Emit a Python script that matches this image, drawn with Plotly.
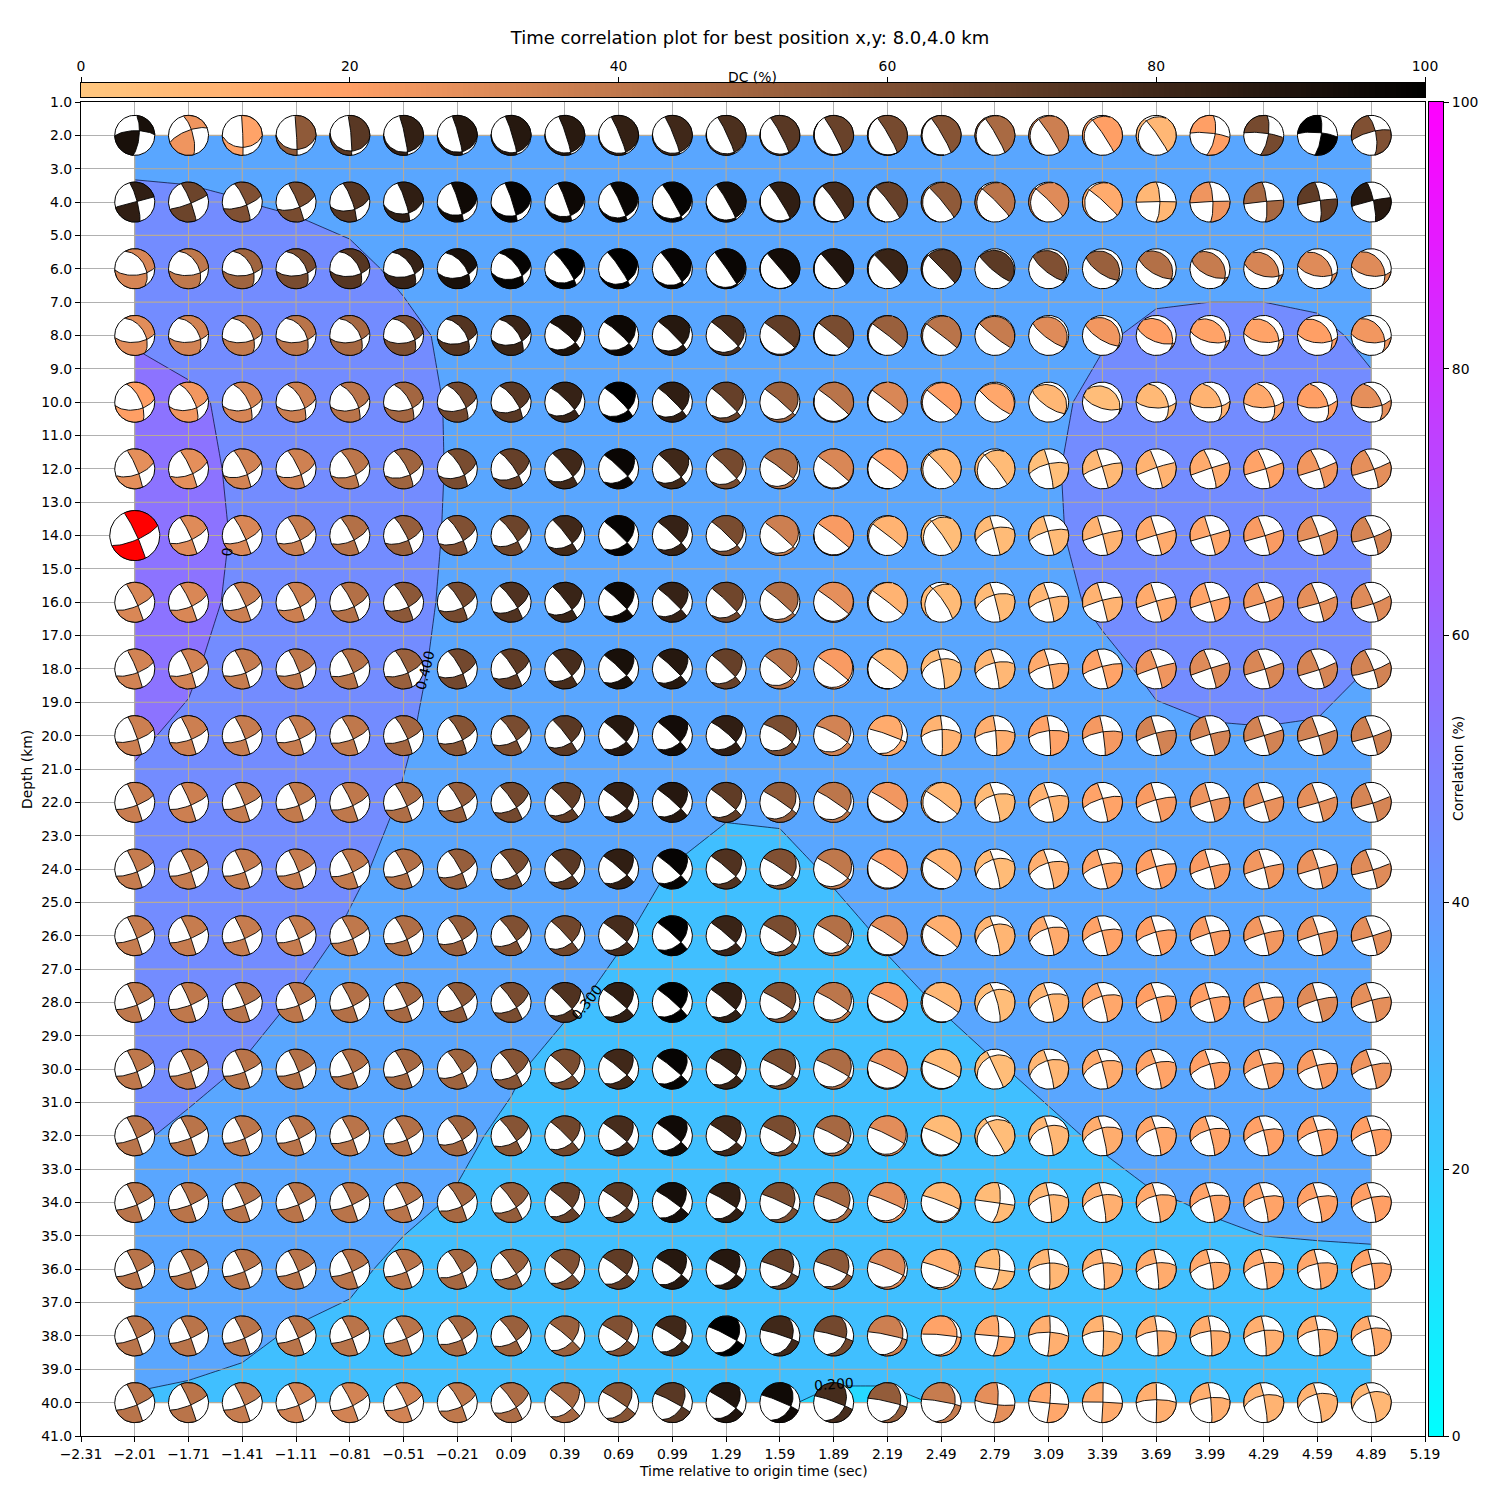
import numpy as np
import plotly.graph_objects as go

TITLE = "Time correlation plot for best position x,y: 8.0,4.0 km"
TIMES = [-2.01,-1.71,-1.41,-1.11,-0.81,-0.51,-0.21,0.09,0.39,0.69,0.99,1.29,1.59,1.89,2.19,2.49,2.79,3.09,3.39,3.69,3.99,4.29,4.59,4.89]
DEPTHS = [2,4,6,8,10,12,14,16,18,20,22,24,26,28,30,32,34,36,38,40]
X_TICKS = [-2.31,-2.01,-1.71,-1.41,-1.11,-0.81,-0.51,-0.21,0.09,0.39,0.69,0.99,1.29,1.59,1.89,2.19,2.49,2.79,3.09,3.39,3.69,3.99,4.29,4.59,4.89,5.19]
X_LABELS = ["−2.31","−2.01","−1.71","−1.41","−1.11","−0.81","−0.51","−0.21","0.09","0.39","0.69","0.99","1.29","1.59","1.89","2.19","2.49","2.79","3.09","3.39","3.69","3.99","4.29","4.59","4.89","5.19"]
Y_TICKS = [1,2,3,4,5,6,7,8,9,10,11,12,13,14,15,16,17,18,19,20,21,22,23,24,25,26,27,28,29,30,31,32,33,34,35,36,37,38,39,40,41]
CB_TICKS = [0,20,40,60,80,100]
BEST_TIME = -2.01
BEST_DEPTH = 14

CORR = [
[38,38,38,37,37,37,36,36,36,36,36,36,36,36,36,36,36,36,36,36,37,37,37,37],
[41,40.7,40.1,38.7,37.5,37,36,36,36,36,36,36,36,36,36,36,36,36,36,36,36,36,36,36],
[44,44,45,45,42,38.5,36,36,36,36,36,36,36,36,36,36,36,36,36,37,37,37,37,36],
[49,47,46,46,45,42.1,38,36,36,36,36,36,36,36,36,36,36,36,39,42,43,43,41.5,38.5],
[54,51.5,47.8,47,46,44,38.5,36,36,36,36,36,36,36,36,36,36,37.5,43,44,45,45,44,41.5],
[55,52,48.8,47,46,44,38.7,36,36,36,36,36,36,36,36,36,36,39,43.3,45,45,45,44,43],
[60,53,49,47,46,44,38.3,36,36,36,36,36,36,36,36,36,36,38.7,43,45,45,45,44,43],
[56,52,48.7,47,46,43,38,36,36,36,36,36,36,36,36,36,36,37.5,41.5,44,44,44,44,43],
[53,50.8,47,46,45,41.7,37.8,36,36,36,36,36,36,36,36,36,36,36,38,41.5,43,43,42,39.8],
[50.7,49,46,45,44,40.6,37.6,36,36,36,36,36,36,36,36,36,36,36,36,38.3,39.2,39.5,39.3,37],
[48.9,47,45,44,42.6,39.6,36.5,35.5,35,34,33,31,31.3,33,34,35,36,36,36,36,36,36,36,36],
[46,45,44,43,41,38.3,36,35,34,32.5,29.8,27.7,28,30.8,32,34,35,36,36,36,36,36,36,36],
[44,44,43,42,39.3,37,35,34,32.5,30.5,28,27,27,28,30.6,32.5,34,35.5,36,36,36,36,36,36],
[43,43,42,39.7,37.5,35.5,33.5,32,30.8,28.5,27,26.5,26.5,27,28.5,30.3,32,34,35,36,36,36,36,36],
[42.5,42,39.7,37.5,35.5,34,32,30.7,28,27,26,26,26,26.5,27,28,29.7,31,34,35,36,36,36,36],
[40.8,38.6,37,35.5,34,32.5,31,29,27,26,25.5,25.5,25.5,26,26,26.5,28,29.2,30.5,33,34,35,35,35],
[38,37,35.5,34.5,33,31,29.6,27.5,26,25,25,25,24.5,25,25.5,26,27,27.5,28.5,29.5,30.5,31.5,32,32.5],
[36,35,34,32.5,30.8,29,27.5,26,25,24.5,24,24,24,24,24.5,25,25.5,26,26.5,27,28,28.5,28.5,28.5],
[33,32,31,29.5,29,27.5,26,25.5,25,24.5,24,24,23,23,23,23.5,24,24.5,25,25.5,26,26,26,26],
[29.4,29,28.5,28,27.5,26,25,24.5,24,23.5,22.5,21.5,20.5,19,19,20.3,21.5,22,23,23.5,24,24,24,24],
]

DC = [
[92,25,18,55,72,84,88,88,87,84,80,76,72,67,63,58,47,36,20,8,20,63,100,60],
[85,66,60,62,73,85,95,98,96,97,98,93,85,78,68,55,42,30,14,8,25,48,70,88],
[33,40,50,62,73,83,92,98,100,100,98,97,94,90,82,74,71,60,52,44,38,33,30,30],
[29,34,39,42,48,61,74,82,91,96,88,78,70,62,52,42,38,30,24,20,18,18,20,24],
[20,24,33,36,42,49,64,72,83,100,85,68,52,42,32,20,16,8,5,7,10,15,20,28],
[28,28,34,35,41,50,62,68,80,97,80,63,45,32,18,8,6,4,7,10,14,18,24,28],
[28,30,32,38,44,53,60,66,80,98,83,62,36,22,10,5,6,6,10,14,16,22,28,33],
[32,32,36,36,44,56,63,75,82,96,83,65,45,28,10,6,6,8,10,14,17,24,28,30],
[34,34,38,40,43,52,64,70,78,92,88,68,42,22,9,6,8,14,18,25,30,32,33,34],
[36,36,38,38,40,49,58,62,72,88,94,85,62,34,14,10,12,18,23,34,33,34,34,35],
[37,36,38,39,40,45,53,64,70,84,88,70,55,41,24,8,6,10,18,22,25,27,28,33],
[38,38,38,38,39,44,53,62,72,85,98,75,60,40,21,10,6,12,17,20,22,24,26,30],
[38,38,38,38,40,45,53,60,65,78,100,82,62,44,28,12,9,14,18,20,22,24,26,28],
[40,40,42,41,44,48,55,62,75,85,100,85,60,41,22,8,5,9,16,20,20,23,30,28],
[40,40,42,44,44,48,50,58,62,80,98,82,62,46,26,7,5,8,14,18,20,22,22,25],
[42,42,41,42,42,44,50,58,65,78,95,80,62,48,29,6,5,8,13,16,18,19,20,20],
[42,42,42,42,42,42,48,54,68,72,93,85,62,48,28,8,6,8,12,15,18,18,19,20],
[42,42,42,42,42,42,48,52,60,70,88,88,68,56,31,12,6,8,12,14,15,16,16,18],
[42,42,42,42,42,42,48,52,52,60,80,100,80,64,36,18,15,12,10,12,13,12,13,14],
[42,42,38,34,34,34,40,46,48,58,72,90,95,78,54,38,28,16,14,12,12,10,10,8],
]

STRIKE = [
[5,345,358,357,355,348,345,343,342,338,338,335,332,332,330,330,330,327,326,325,10,10,8,350],
[345,338,337,337,340,342,342,342,340,335,330,330,328,325,322,320,315,315,312,0,358,355,352,348],
[330,330,330,328,328,325,322,322,325,326,325,325,320,320,317,316,130,128,125,120,115,105,100,98],
[328,328,328,328,326,326,325,323,311,313,315,313,310,310,308,308,128,127,122,112,103,97,95,95],
[335,333,332,332,330,330,328,325,315,315,315,314,311,310,308,310,128,125,108,335,335,338,335,335],
[337,335,335,335,333,332,330,325,321,314,317,315,307,309,308,318,322,347,343,342,342,342,340,340],
[335,335,335,335,333,333,330,325,322,314,314,314,311,308,308,325,345,345,345,344,344,343,342,340],
[335,335,335,335,333,332,330,325,322,314,314,314,311,308,308,325,345,345,345,344,344,342,342,340],
[338,338,338,338,336,335,332,328,322,314,314,314,311,308,308,350,348,347,345,343,342,342,340,340],
[340,338,338,338,336,335,333,328,322,314,314,312,305,300,290,358,355,355,352,345,345,343,343,342],
[338,338,338,338,336,335,332,326,317,311,312,311,304,304,303,306,345,345,345,345,345,343,343,342],
[338,338,338,338,336,335,332,326,317,311,312,311,304,304,303,306,345,345,345,345,345,345,345,343],
[338,338,338,338,336,335,332,326,317,311,312,311,304,304,303,306,345,345,345,345,345,345,345,343],
[338,338,338,338,336,335,330,326,317,311,312,311,302,302,299,300,345,345,345,345,345,345,345,345],
[338,338,338,338,336,335,330,326,315,310,310,306,300,298,296,295,335,345,345,345,345,345,345,345],
[337,337,337,337,336,335,330,326,315,310,310,306,300,298,296,295,330,347,347,346,346,346,346,346],
[337,337,337,337,337,336,332,326,312,308,306,302,295,294,293,291,8,352,350,348,347,347,347,347],
[337,337,337,337,337,336,332,326,312,308,306,302,293,293,293,291,8,358,355,353,350,350,350,350],
[337,337,337,337,337,336,332,326,310,305,303,298,288,285,282,275,5,3,0,355,355,353,353,350],
[337,337,337,337,335,335,332,326,312,304,298,304,293,290,283,280,5,5,2,0,355,350,348,345],
]

DIP = [
[72,72,88,88,85,85,85,85,85,85,85,85,85,85,85,85,85,85,85,85,70,72,75,70],
[80,82,78,84,80,82,85,85,85,85,85,85,85,85,85,85,85,85,85,75,78,78,78,80],
[48,50,52,52,54,57,60,64,80,84,86,88,88,88,88,88,80,75,70,68,62,60,60,60],
[50,50,52,52,52,55,58,62,80,82,84,85,86,88,88,88,85,78,72,65,63,62,60,60],
[66,68,66,66,66,66,68,72,80,82,84,85,86,86,88,88,82,72,65,45,48,50,52,52],
[82,82,80,80,78,76,75,78,82,84,85,85,86,87,88,85,85,85,88,85,82,82,82,80],
[84,84,83,82,82,80,78,80,84,85,85,85,86,87,88,85,88,88,88,88,88,85,85,82],
[84,84,83,82,82,80,78,80,84,85,85,85,86,87,88,80,85,85,88,88,88,85,85,84],
[84,84,83,82,82,80,78,80,84,85,85,85,86,87,88,85,85,85,88,85,85,85,85,82],
[84,84,83,82,82,80,78,80,84,85,85,80,78,80,85,85,85,85,85,88,88,88,86,85],
[85,85,85,84,84,83,80,82,85,85,85,85,85,85,85,85,85,85,85,88,88,88,86,85],
[85,85,85,84,84,83,80,82,85,85,85,85,85,85,85,85,85,85,88,88,88,86,85,85],
[85,85,85,84,84,83,80,82,85,85,85,85,85,85,85,85,85,85,88,88,88,86,85,85],
[85,85,85,84,84,83,80,82,85,85,85,85,85,85,85,85,80,85,85,85,88,88,88,85],
[85,85,85,84,84,83,80,82,85,85,85,85,85,85,85,85,88,85,85,85,85,88,88,85],
[85,85,85,84,84,83,80,82,85,85,85,85,85,85,85,85,88,85,85,85,85,85,85,85],
[85,85,85,84,84,83,80,82,85,85,85,85,85,85,85,85,70,85,85,85,85,85,85,85],
[85,85,85,84,84,83,80,82,85,85,85,85,85,85,85,85,72,85,85,85,85,85,85,85],
[85,85,85,84,84,83,80,82,85,85,85,85,85,85,85,85,75,85,85,85,85,85,85,85],
[85,85,85,84,84,83,80,82,85,85,85,85,85,85,85,85,78,85,88,88,85,85,85,85],
]

RAKE = [
[20,20,-50,-60,-68,-74,-74,-77,-78,-80,-80,-83,-85,-88,-90,-92,-95,-97,-100,-104,-170,-170,-168,-165],
[0,-8,-18,-25,-35,-50,-55,-60,-62,-68,-72,-80,-85,-92,-95,-97,-100,-100,-102,-178,-178,-178,-175,-175],
[-37,-37,-38,-38,-40,-42,-45,-50,-60,-65,-70,-82,-90,-92,-95,-98,92,88,85,80,75,70,65,60],
[-38,-38,-38,-38,-38,-40,-42,-45,-52,-55,-60,-70,-85,-92,-95,-98,92,88,85,78,72,66,62,58],
[-35,-35,-38,-38,-38,-38,-38,-42,-50,-52,-55,-62,-72,-88,-93,-97,92,88,82,145,148,150,150,152],
[-25,-25,-30,-30,-32,-34,-36,-40,-46,-48,-50,-60,-72,-86,-92,-98,-105,-160,-170,-175,-178,178,176,175],
[-15,-20,-22,-24,-24,-26,-30,-35,-44,-46,-48,-62,-75,-88,-97,-105,-150,-162,-175,-178,180,178,176,172],
[-18,-20,-22,-24,-24,-26,-30,-34,-42,-44,-46,-60,-72,-85,-95,-112,-150,-165,-172,-176,-178,178,175,172],
[-18,-20,-20,-20,-20,-22,-28,-30,-40,-42,-44,-50,-65,-80,-92,-140,-155,-165,-170,-175,-178,178,175,172],
[-18,-18,-18,-18,-18,-20,-25,-28,-38,-40,-42,-48,-58,-65,-60,-155,-160,-160,-165,-170,-175,180,178,175],
[-14,-14,-15,-16,-17,-20,-24,-30,-40,-42,-44,-50,-60,-70,-88,-98,-150,-160,-165,-170,-175,-178,178,175],
[-14,-14,-15,-15,-16,-20,-24,-30,-40,-42,-44,-50,-62,-72,-88,-95,-140,-155,-162,-170,-172,-175,-178,175],
[-13,-13,-14,-15,-16,-20,-24,-30,-40,-42,-44,-50,-62,-72,-88,-95,-135,-150,-160,-165,-170,-172,-175,178],
[-13,-13,-14,-15,-18,-20,-24,-30,-40,-42,-44,-50,-60,-72,-88,-95,-130,-150,-155,-162,-165,-168,-170,-172],
[-13,-13,-14,-15,-18,-20,-24,-30,-40,-42,-44,-50,-60,-72,-88,-93,-125,-145,-150,-155,-160,-162,-165,-165],
[-12,-12,-14,-15,-18,-20,-24,-30,-40,-42,-44,-50,-60,-70,-80,-90,-115,-140,-148,-150,-155,-158,-160,-160],
[-12,-12,-12,-12,-12,-14,-22,-28,-38,-40,-42,-48,-58,-66,-76,-85,180,-150,-150,-152,-155,-158,-158,-160],
[-12,-12,-12,-12,-12,-14,-22,-28,-38,-40,-44,-46,-52,-60,-74,-78,180,-155,-155,-155,-155,-155,-157,-158],
[-12,-12,-12,-12,-12,-14,-22,-28,-38,-40,-44,-48,-52,-52,-65,-68,180,-165,-160,-160,-160,-158,-155,-150],
[-12,-12,-14,-14,-16,-18,-22,-28,-38,-40,-42,-46,-48,-48,-54,-58,172,178,-178,-168,-160,-150,-145,-138],
]

# ---- styling ----
FONT = "DejaVu Sans"
FS = 13.9
PX_L, PX_R, PX_T, PX_B = 81, 1425, 102, 1436
X0, X1, Y0, Y1 = -2.31, 5.19, 1, 41
RX = 20 / ((PX_R - PX_L) / (X1 - X0))
RY = 20 / ((PX_B - PX_T) / (Y1 - Y0))
BEST_SCALE = 1.25


def copper_r(v):
    t = 1 - v / 100
    return "rgb(%d,%d,%d)" % (round(255 * min(1, 1.25 * t)), round(255 * 0.7812 * t), round(255 * 0.4975 * t))


def cool(t):
    return "rgb(%d,%d,255)" % (round(255 * t), round(255 * (1 - t)))


def lune_polys(st, dp, rk):
    """Tension quadrants of a double couple, as lower-hemisphere equal-area polygons."""
    f, d, l = np.radians([st, dp, rk])
    n = np.array([-np.sin(d) * np.sin(f), np.sin(d) * np.cos(f), -np.cos(d)])
    s = np.array([
        np.cos(l) * np.cos(f) + np.cos(d) * np.sin(l) * np.sin(f),
        np.cos(l) * np.sin(f) - np.cos(d) * np.sin(l) * np.cos(f),
        -np.sin(d) * np.sin(l)])
    b = np.cross(n, s)
    t = np.linspace(0, np.pi, 26)[:-1]
    arc1 = np.outer(np.cos(t), b) + np.outer(np.sin(t), s)
    arc2 = np.outer(np.cos(t), -b) + np.outer(np.sin(t), n)
    lune = np.vstack([arc1, arc2])
    polys = []
    for sign in (1, -1):
        pts = sign * lune
        m = len(pts)
        inside = pts[:, 2] >= 0
        start = next(i for i in range(m) if inside[i] and not inside[i - 1])
        out = []
        exit_pt = None
        for k in range(m):
            i = (start + k) % m
            j = (i + 1) % m
            if inside[i]:
                out.append(pts[i])
            if inside[i] != inside[j]:
                a = pts[i][2] / (pts[i][2] - pts[j][2])
                c = pts[i] + a * (pts[j] - pts[i])
                c[2] = 0
                c = c / np.linalg.norm(c)
                out.append(c)
                if inside[i]:
                    exit_pt = c
                else:
                    a0 = np.arctan2(exit_pt[1], exit_pt[0])
                    a1 = np.arctan2(c[1], c[0])
                    da = (a1 - a0 + np.pi) % (2 * np.pi) - np.pi
                    for q in np.linspace(0, 1, 16)[1:-1]:
                        aq = a0 + q * da
                        out.insert(len(out) - 1, np.array([np.cos(aq), np.sin(aq), 0.0]))
        out = np.array(out)
        hor = np.hypot(out[:, 0], out[:, 1])
        hor[hor == 0] = 1
        r = np.sqrt(np.clip(1 - out[:, 2], 0, 1))
        polys.append((out[:, 1] / hor * r, out[:, 0] / hor * r))
    return polys


def joined(seq):
    out = []
    for a in seq:
        out.extend(np.round(a, 4).tolist())
        out.append(None)
    return out


fig = go.Figure()

# correlation field: one flat colour per 10 % band (7 bins for these contour levels)
bands = [[k / 6, cool(k / 10 + 0.05)] for k in range(7)]
fig.add_trace(go.Contour(
    x=TIMES, y=DEPTHS, z=CORR, colorscale=bands, showscale=False,
    contours=dict(start=10, end=60, size=10, coloring="fill", showlabels=False),
    line=dict(color="rgba(0,0,30,0.85)", width=0.8, smoothing=0), hoverinfo="skip", xaxis="x", yaxis="y"))

# gridlines over the field
gx, gy = [], []
for xv in X_TICKS:
    if TIMES[0] <= xv <= TIMES[-1]:
        gx += [xv, xv, None]
        gy += [DEPTHS[0], DEPTHS[-1], None]
for yv in Y_TICKS:
    if DEPTHS[0] <= yv <= DEPTHS[-1]:
        gx += [TIMES[0], TIMES[-1], None]
        gy += [yv, yv, None]
fig.add_trace(go.Scatter(x=gx, y=gy, mode="lines", line=dict(color="#b8aa96", width=1.1),
                         hoverinfo="skip", showlegend=False))

# white discs
ang = np.linspace(0, 2 * np.pi, 73)
dx, dy = [], []
for j, dep in enumerate(DEPTHS):
    for i, tim in enumerate(TIMES):
        k = BEST_SCALE if (tim == BEST_TIME and dep == BEST_DEPTH) else 1
        dx.append(tim + k * RX * np.cos(ang))
        dy.append(dep + k * RY * np.sin(ang))
fig.add_trace(go.Scatter(x=joined(dx), y=joined(dy), mode="lines", fill="toself", fillcolor="white",
                         line=dict(color="black", width=1), hoverinfo="skip", showlegend=False))

# tension quadrants
for j, dep in enumerate(DEPTHS):
    for i, tim in enumerate(TIMES):
        best = tim == BEST_TIME and dep == BEST_DEPTH
        k = BEST_SCALE if best else 1
        polys = lune_polys(STRIKE[j][i], DIP[j][i], RAKE[j][i])
        xs = joined([tim + k * RX * p[0] for p in polys])
        ys = joined([dep - k * RY * p[1] for p in polys])
        fig.add_trace(go.Scatter(x=xs, y=ys, mode="lines", fill="toself",
                                 fillcolor="red" if best else copper_r(DC[j][i]),
                                 line=dict(color="black", width=0.9),
                                 hoverinfo="skip", showlegend=False))

# colour bars
vals = np.linspace(0, 100, 256)
fig.add_trace(go.Heatmap(x=vals, y=[0, 1], z=[vals, vals], zmin=0, zmax=100, showscale=False,
                         colorscale=[[0, "rgb(255,199,127)"], [0.2, "rgb(255,159,101)"], [1, "rgb(0,0,0)"]],
                         xaxis="x2", yaxis="y2", hoverinfo="skip"))
fig.add_trace(go.Heatmap(x=[0, 1], y=vals, z=[[v, v] for v in vals], zmin=0, zmax=100, showscale=False,
                         colorscale=[[0, "rgb(0,255,255)"], [1, "rgb(255,0,255)"]],
                         xaxis="x3", yaxis="y3", hoverinfo="skip"))

W = H = 1500
axis_font = dict(family=FONT, size=FS, color="black")
common = dict(showline=True, linecolor="black", linewidth=1.1, mirror=True, ticks="outside", automargin=False,
              ticklen=5, tickwidth=1, tickcolor="black", tickfont=axis_font, zeroline=False)
plain = dict(showline=True, linecolor="black", linewidth=1.1, mirror=True, ticks="", showgrid=False,
             zeroline=False, showticklabels=False, automargin=False)


def note(text, px, py, angle=0):
    return dict(text=text, x=px / W, y=1 - py / H, xref="paper", yref="paper", showarrow=False,
                xanchor="center", yanchor="middle", textangle=angle, font=axis_font)


def contour_label(text, x, y, angle):
    return dict(text=text, x=x, y=y, xref="x", yref="y", showarrow=False,
                xanchor="center", yanchor="middle", textangle=angle, font=axis_font)


fig.update_layout(
    width=W, height=H, autosize=False, margin=dict(l=0, r=0, t=0, b=0),
    paper_bgcolor="white", plot_bgcolor="white", showlegend=False,
    font=dict(family=FONT, size=FS, color="black"),
    title=dict(text=TITLE, x=0.5, xanchor="center", y=1 - 38 / H, yanchor="middle",
               font=dict(family=FONT, size=18, color="black")),
    xaxis=dict(domain=[PX_L / W, PX_R / W], range=[X0, X1], tickmode="array", tickvals=X_TICKS,
               ticktext=X_LABELS, showgrid=True, gridcolor="#b0b0b0", gridwidth=1, anchor="y", **common),
    yaxis=dict(domain=[1 - PX_B / H, 1 - PX_T / H], range=[Y1, Y0], tickmode="array", tickvals=Y_TICKS,
               ticktext=["%.1f" % v for v in Y_TICKS], showgrid=True, gridcolor="#b0b0b0", gridwidth=1, anchor="x", **common),
    xaxis2=dict(domain=[PX_L / W, PX_R / W], range=[0, 100], side="top", anchor="y2", tickmode="array",
                tickvals=CB_TICKS, showgrid=False, **common),
    yaxis2=dict(domain=[1 - 97 / H, 1 - 83 / H], range=[0, 1], anchor="x2", **plain),
    xaxis3=dict(domain=[1429 / W, 1443 / W], range=[0, 1], anchor="y3", **plain),
    yaxis3=dict(domain=[1 - PX_B / H, 1 - PX_T / H], range=[0, 100], side="right", anchor="x3", tickmode="array",
                tickvals=CB_TICKS, showgrid=False, **common),
    annotations=[
        note("DC (%)", 752, 77),
        note("Correlation (%)", 1458, 769, -90),
        note("Time relative to origin time (sec)", 753, 1471),
        note("Depth (km)", 27, 769, -90),
        contour_label("0.400", -0.39, 18.03, -76),
        contour_label("0.300", 0.514, 27.99, -52),
        contour_label("0.200", 1.892, 39.44, -4),
        contour_label("0", -1.497, 14.48, -85),
    ],
)
fig.write_html("out.html", post_script="document.body.style.margin='0';",
               config={"displayModeBar": False})
